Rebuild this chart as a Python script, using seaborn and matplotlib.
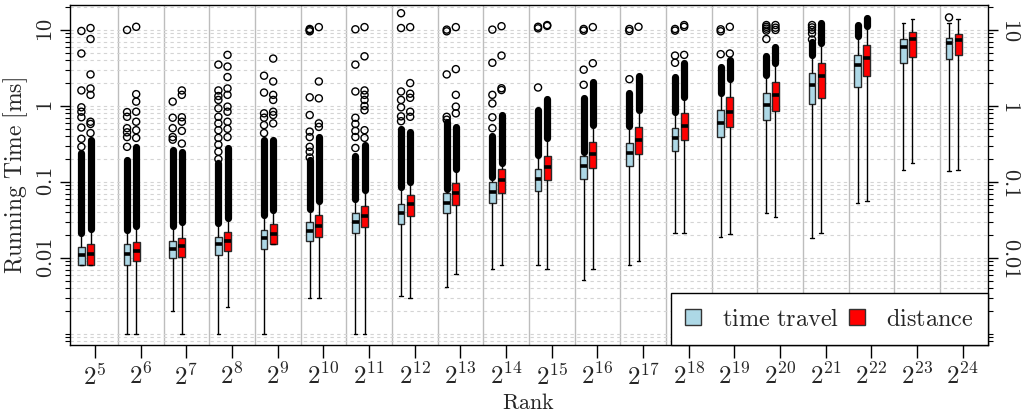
import matplotlib
matplotlib.use("Agg")
import matplotlib.pyplot as plt
import seaborn as sns
import pandas as pd
from matplotlib.patches import Patch
from matplotlib.ticker import FixedLocator, LogLocator, NullFormatter

# rank = 2^k
rank_exp = list(range(5, 25))

# time travel metric: whisker low, quartiles, whisker high (ms)
tt_low = [0.0081, 0.001, 0.0020, 0.001, 0.001, 0.0030, 0.001, 0.0032, 0.0042, 0.0072,
          0.0081, 0.0052, 0.0081, 0.0211, 0.0191, 0.0394, 0.0182, 0.0524, 0.144, 0.141]
tt_q1 = [0.0081, 0.0081, 0.0101, 0.0110, 0.0133, 0.0169, 0.0211, 0.0283, 0.0387, 0.0534,
         0.0761, 0.109, 0.163, 0.256, 0.394, 0.654, 1.05, 1.79, 3.71, 4.11]
tt_med = [0.0110, 0.0113, 0.0131, 0.0153, 0.0182, 0.0227, 0.0298, 0.0394, 0.0534, 0.0745,
          0.109, 0.163, 0.243, 0.383, 0.603, 1.03, 1.89, 3.46, 6.03, 6.68]
tt_q3 = [0.0141, 0.0151, 0.0169, 0.0191, 0.0234, 0.0295, 0.0387, 0.0513, 0.071, 0.101,
         0.147, 0.22, 0.329, 0.518, 0.886, 1.47, 2.69, 4.69, 7.62, 7.92]
tt_high = [0.021, 0.023, 0.026, 0.029, 0.037, 0.044, 0.059, 0.087, 0.08, 0.117,
           0.226, 0.25, 0.55, 0.84, 1.47, 2.57, 4.7, 8.3, 12.5, 12.5]
# top of the dense column of outliers above the whisker
tt_band_top = [0.24, 0.195, 0.26, 0.18, 0.36, 0.195, 0.22, 0.50, 0.62, 0.40,
               0.89, 1.26, 1.47, 2.37, 3.3, 4.5, 6.9, 11.6, None, None]
tt_outliers = [
    [0.29, 0.37, 0.52, 0.71, 0.84, 0.96, 1.6, 4.9, 9.7],
    [0.29, 0.39, 0.45, 0.51, 0.72, 0.83, 10.0],
    [0.36, 0.39, 0.51, 0.70, 1.14],
    [0.20, 0.25, 0.31, 0.38, 0.48, 0.59, 0.72, 0.93, 1.2, 1.35, 1.6, 3.5],
    [0.44, 0.56, 0.70, 0.80, 1.5, 2.5],
    [0.21, 0.25, 0.29, 0.39, 0.46, 0.76, 1.3, 9.6, 10.0, 10.3],
    [0.28, 0.39, 0.47, 0.58, 0.70, 1.55, 3.5, 10.2],
    [0.63, 0.73, 0.96, 1.2, 1.55, 10.6, 16.6],
    [0.66, 0.72, 2.6, 9.6, 10.1],
    [0.51, 0.71, 1.08, 1.4, 3.7, 10.1],
    [1.75, 10.5, 11.0],
    [1.9, 3.0, 9.8, 10.3],
    [2.25, 9.7, 10.3],
    [3.7, 4.6, 9.8, 10.3],
    [4.8, 9.6, 10.2],
    [7.6, 9.8, 10.4, 11.0, 11.6],
    [7.5, 9.0, 10.0, 10.8, 11.6],
    [],
    [],
    [14.6],
]

# distance metric
dist_low = [0.0081, 0.001, 0.001, 0.0023, 0.0151, 0.0030, 0.001, 0.0030, 0.0062, 0.0081,
            0.0071, 0.0071, 0.0091, 0.0211, 0.0205, 0.0343, 0.0211, 0.0562, 0.176, 0.144]
dist_q1 = [0.0081, 0.0091, 0.0104, 0.0124, 0.0151, 0.0191, 0.0253, 0.0357, 0.0498, 0.071,
           0.106, 0.154, 0.231, 0.357, 0.525, 0.86, 1.29, 2.48, 4.37, 4.69]
dist_med = [0.0113, 0.0125, 0.0144, 0.0167, 0.0207, 0.0266, 0.0357, 0.0509, 0.071, 0.105,
            0.156, 0.231, 0.357, 0.546, 0.84, 1.40, 2.48, 4.32, 7.55, 7.38]
dist_q3 = [0.0151, 0.0164, 0.0182, 0.0218, 0.0278, 0.0368, 0.0483, 0.0675, 0.098, 0.147,
           0.22, 0.333, 0.525, 0.80, 1.33, 2.09, 3.65, 6.35, 9.3, 8.78]
dist_high = [0.024, 0.026, 0.0295, 0.034, 0.043, 0.057, 0.079, 0.10, 0.15, 0.176,
             0.376, 0.56, 0.886, 1.32, 2.25, 3.65, 6.7, 11.2, 14.1, 14.0]
dist_band_top = [0.36, 0.29, 0.25, 0.28, 0.36, 0.39, 0.31, 0.46, 0.53, 0.76,
                 1.24, 2.09, 2.5, 3.65, 4.0, 6.0, 12.4, 14.2, None, None]
dist_outliers = [
    [0.44, 0.58, 0.62, 1.4, 1.7, 2.6, 7.6, 10.6],
    [0.38, 0.48, 0.62, 0.84, 1.14, 1.43, 11.0],
    [0.32, 0.47, 0.62, 0.71, 1.4, 1.6],
    [0.39, 0.50, 0.62, 0.84, 0.98, 1.4, 1.7, 2.4, 3.3, 4.7],
    [0.59, 0.76, 0.84, 1.2, 1.4, 2.1, 4.2],
    [0.53, 0.59, 1.26, 2.1, 10.9],
    [0.38, 0.48, 0.88, 1.0, 1.2, 1.4, 1.6, 4.5, 10.9],
    [0.72, 0.84, 1.28, 1.45, 2.0, 10.9],
    [0.80, 0.98, 1.4, 3.05, 10.9],
    [1.62, 1.71, 4.6, 11.2],
    [11.3, 11.6],
    [3.65, 10.9],
    [11.0],
    [4.7, 11.0, 11.6],
    [4.9, 11.0],
    [10.0, 10.7, 11.6],
    [],
    [],
    [],
    [],
]

series = {
    "time travel": (tt_low, tt_q1, tt_med, tt_q3, tt_high, tt_band_top, tt_outliers),
    "distance": (dist_low, dist_q1, dist_med, dist_q3, dist_high, dist_band_top, dist_outliers),
}
colors = {"time travel": "#ADD8E6", "distance": "#FF0000"}
offsets = {"time travel": -0.3, "distance": -0.1}

# five values per box -> quartiles fall exactly on them, whiskers at min/max
rows = []
for name, (lo, q1, med, q3, hi, _, _) in series.items():
    for i in range(len(rank_exp)):
        for v in (lo[i], q1[i], med[i], q3[i], hi[i]):
            rows.append({"pos": round(i + offsets[name], 2), "time": v, "metric": name})
df = pd.DataFrame(rows)

sns.set_theme(style="white")
plt.rcParams["mathtext.fontset"] = "cm"
plt.rcParams["font.family"] = ["DejaVu Serif"]

fig, ax = plt.subplots(figsize=(10.29, 4.16), dpi=100)
fig.subplots_adjust(left=0.068, right=0.960, bottom=0.1695, top=0.988)
ax.set_yscale("log")

# group separators
for i in range(len(rank_exp) - 1):
    ax.axvline(i + 0.5, color="#bdbdbd", lw=1.0, zorder=0.5)

sns.boxplot(data=df, x="pos", y="time", hue="metric", native_scale=True, dodge=False,
            width=0.75, whis=(0, 100), palette=colors, saturation=1,
            linecolor="#2a2a2a", linewidth=1.0, legend=False,
            medianprops=dict(color="black", linewidth=2.6),
            whiskerprops=dict(color="black", linewidth=1.0),
            capprops=dict(color="black", linewidth=1.0),
            ax=ax, zorder=3)

# outliers: dense columns and single points
for name, (lo, q1, med, q3, hi, top, outs) in series.items():
    for i in range(len(rank_exp)):
        x = i + offsets[name]
        if top[i] is not None:
            ax.plot([x, x], [hi[i], top[i]], color="black", lw=5.2,
                    solid_capstyle="round", zorder=4)
        if outs[i]:
            ax.scatter([x] * len(outs[i]), outs[i], s=26, facecolors="none",
                       edgecolors="black", linewidths=1.0, zorder=4)

ax.set_xlim(-0.55, 19.55)
ax.set_ylim(7.06e-4, 21.3)
ax.set_xticks(range(len(rank_exp)))
ax.set_xticklabels([rf"$2^{{{e}}}$" for e in rank_exp], fontsize=18)

ax.yaxis.set_major_locator(FixedLocator([0.01, 0.1, 1, 10]))
ax.yaxis.set_minor_locator(LogLocator(base=10, subs=range(1, 10), numticks=20))
ax.yaxis.set_minor_formatter(NullFormatter())
ax.set_yticklabels([r"$0.01$", r"$0.1$", r"$1$", r"$10$"], fontsize=16)

ax.grid(axis="y", which="both", color="#d4d4d4", linestyle=(0, (3, 3)), lw=0.8)
ax.set_axisbelow(True)

ax.tick_params(axis="x", which="major", direction="out", length=9, width=1,
               color="black", bottom=True, pad=4)
ax.tick_params(axis="y", which="major", direction="out", length=7, width=1,
               color="black", left=True, right=True, labelleft=True, labelright=True, pad=2)
ax.tick_params(axis="y", which="minor", direction="out", length=3.5, width=0.8,
               color="black", left=True, right=True)
for t in ax.yaxis.get_major_ticks():
    t.label1.set_rotation(90)
    t.label1.set_verticalalignment("center")
    t.label2.set_rotation(270)
    t.label2.set_verticalalignment("center")

for sp in ax.spines.values():
    sp.set_visible(True)
    sp.set_color("black")
    sp.set_linewidth(1.0)

ax.set_xlabel(r"$\mathrm{Rank}$", fontsize=16, labelpad=2)
ax.set_ylabel(r"$\mathrm{Running\ Time\ [ms]}$", fontsize=17, labelpad=4)

handles = [Patch(facecolor=colors["time travel"], edgecolor="#333333", label=r"$\mathrm{time\ travel}$"),
           Patch(facecolor=colors["distance"], edgecolor="#333333", label=r"$\mathrm{distance}$")]
leg = ax.legend(handles=handles, loc="lower right", ncol=2, frameon=True, fancybox=False,
                edgecolor="black", framealpha=1, borderaxespad=0, fontsize=17.5,
                handlelength=0.66, handleheight=0.62, handletextpad=0.85,
                columnspacing=0.4, borderpad=0.6)
leg.get_frame().set_linewidth(1.0)

plt.savefig("out.png", dpi=100)
plt.close()
